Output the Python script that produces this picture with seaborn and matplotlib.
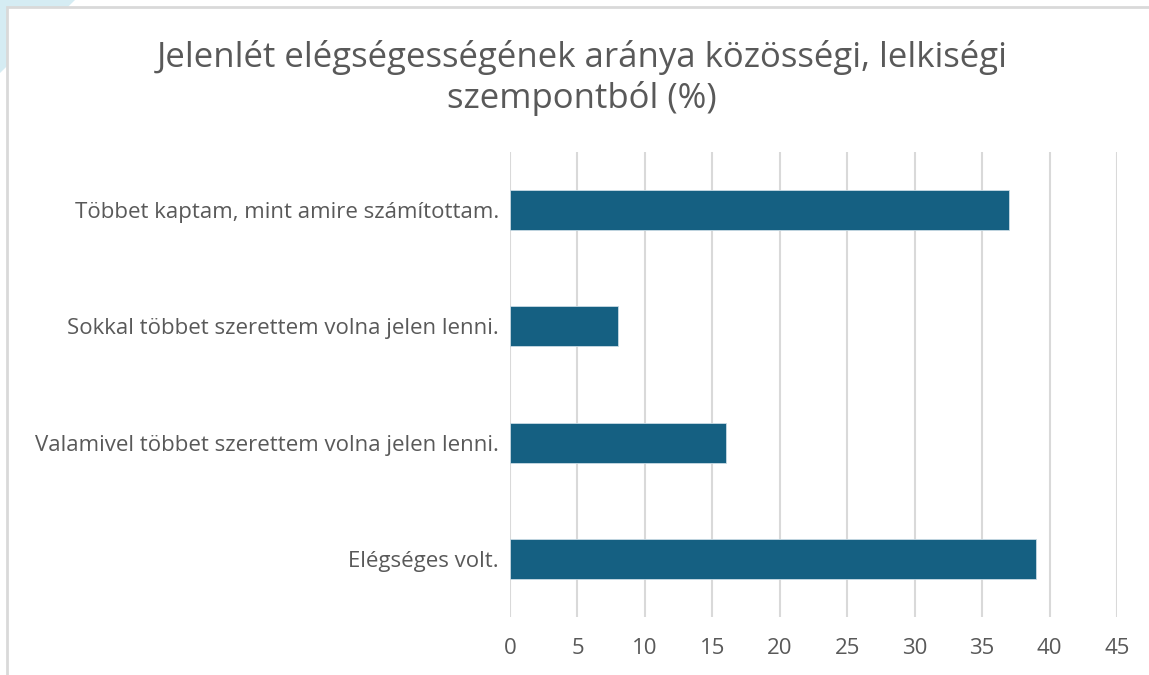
import matplotlib
matplotlib.use("Agg")
import matplotlib.pyplot as plt
import matplotlib.patches as mpatches
import seaborn as sns
import pandas as pd

# data
categories = [
    "Többet kaptam, mint amire számítottam.",
    "Sokkal többet szerettem volna jelen lenni.",
    "Valamivel többet szerettem volna jelen lenni.",
    "Elégséges volt.",
]
values = [37, 8, 16, 39]
x_ticks = [0, 5, 10, 15, 20, 25, 30, 35, 40, 45]

title = "Jelenlét elégségességének aránya közösségi, lelkiségi\nszempontból (%)"

df = pd.DataFrame({"cat": categories, "val": values})

sns.set_style("white")
plt.rcParams["font.family"] = ["Open Sans", "DejaVu Sans"]

fig = plt.figure(figsize=(11.49, 6.75), dpi=100)

# light blue corner + frame (behind the axes)
fig.patches.append(mpatches.Polygon([[0, 1], [75 / 1149, 1], [0, 1 - 73 / 675]],
                                    closed=True, transform=fig.transFigure,
                                    facecolor="#d5ecf3", edgecolor="none", zorder=-2))
fig.patches.append(mpatches.Rectangle((7 / 1149, -0.1), 1.2, 1 - 7 / 675 + 0.1,
                                      transform=fig.transFigure, facecolor="white",
                                      edgecolor="#d9d9d9", linewidth=2, zorder=-1))

ax = fig.add_axes([510 / 1149, 58 / 675, 607 / 1149, 465 / 675])
ax.set_facecolor("none")

sns.barplot(data=df, x="val", y="cat", orient="h", color="#156082", saturation=1,
            width=0.345, edgecolor="#c9dbe4", linewidth=0.6, ax=ax, zorder=3)

ax.set_xlim(0, 45)
ax.set_ylim(3.5, -0.5)
ax.set_xticks(x_ticks)
ax.set_xticklabels([str(t) for t in x_ticks])
ax.xaxis.grid(True, color="#d9d9d9", linewidth=1.5, zorder=0)
ax.yaxis.grid(False)
ax.set_axisbelow(True)
for s in ax.spines.values():
    s.set_visible(False)
ax.tick_params(axis="both", length=0, colors="#595959", labelsize=16)
ax.tick_params(axis="x", pad=15)
ax.tick_params(axis="y", pad=8)
ax.set_xlabel("")
ax.set_ylabel("")

fig.text(582 / 1149, 1 - 78 / 675, title, ha="center", va="center",
         fontsize=25, color="#595959", linespacing=1.2)

fig.savefig("out.png", dpi=100)
